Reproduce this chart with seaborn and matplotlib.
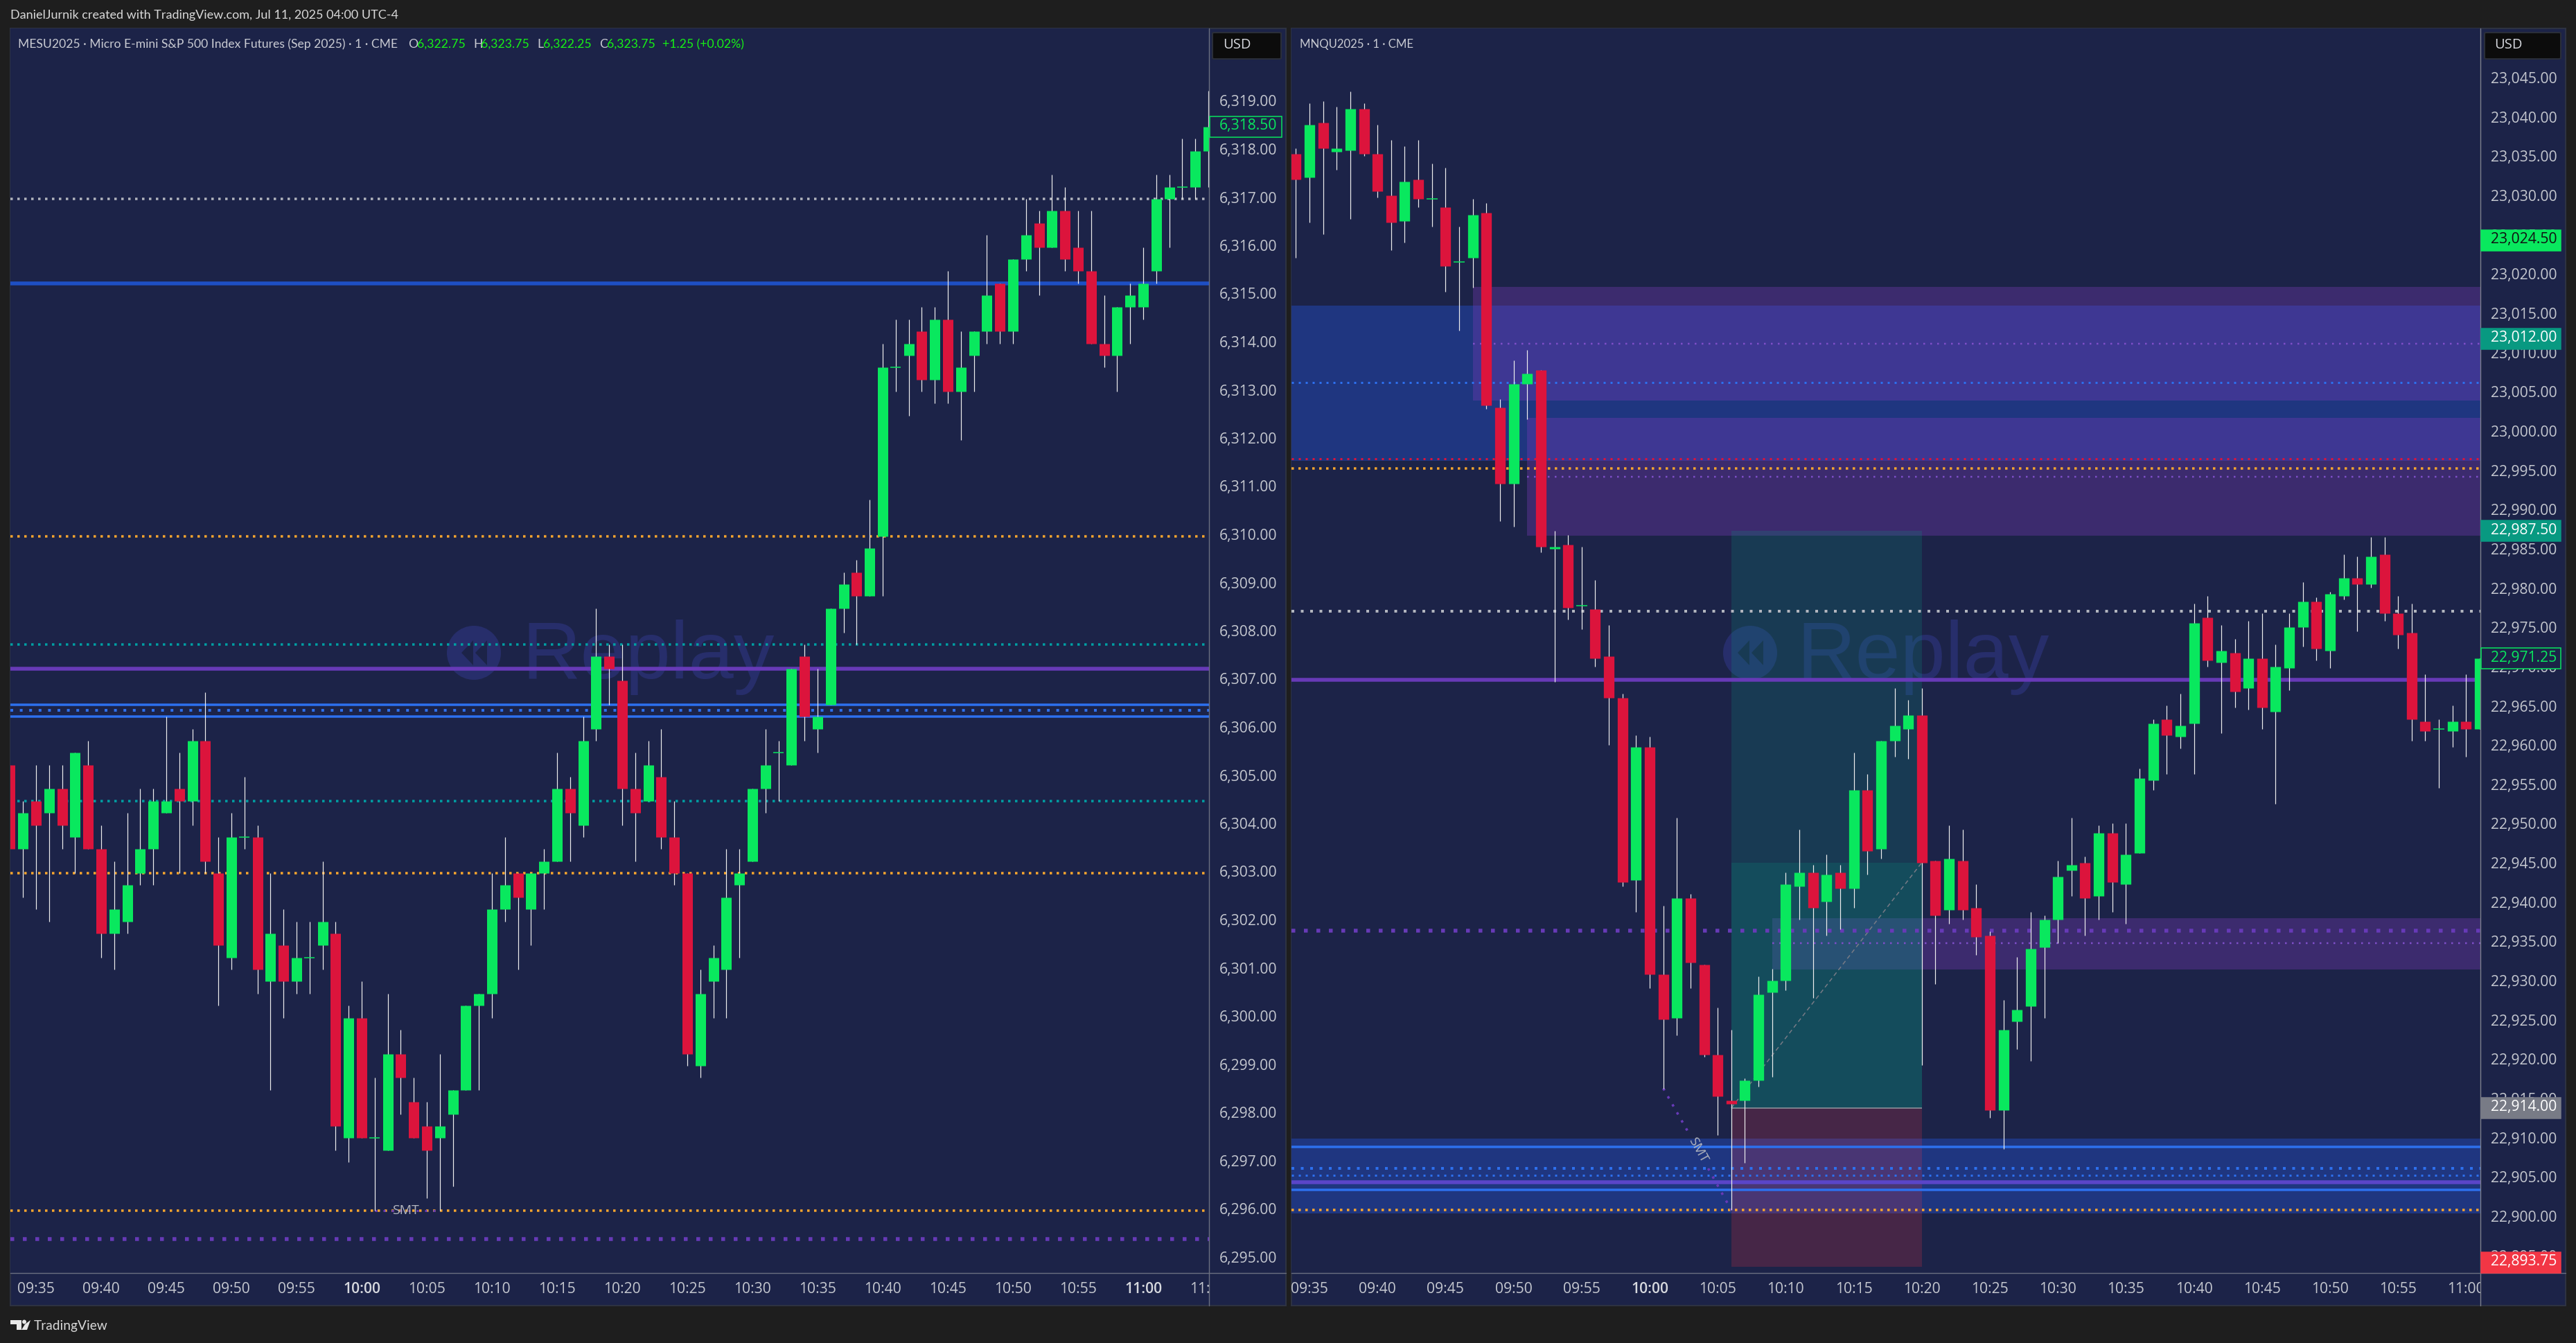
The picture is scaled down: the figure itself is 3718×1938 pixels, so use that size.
import numpy as np
import pandas as pd
import seaborn as sns
import matplotlib
matplotlib.use("Agg")
import matplotlib.pyplot as plt
from matplotlib.patches import Rectangle, Ellipse, Polygon, FancyBboxPatch
from matplotlib.transforms import Bbox, TransformedBbox, ScaledTranslation

# ---------- data ----------
mes_first_minute = -2   # minutes after 09:35
mes_open = [
 6305.25,6303.5,6304.5,6304.25,6304.75,6303.75,6305.25,6303.5,6301.75,6302,
 6303,6303.5,6304.25,6304.75,6304.5,6305.75,6303,6301.25,6303.75,6303.75,
 6300.75,6301.5,6300.75,6301.25,6301.5,6301.75,6297.5,6300,6297.5,6297.25,
 6299.25,6298.25,6297.75,6297.5,6298,6298.5,6300.25,6300.5,6302.25,6303,
 6302.25,6303,6303.25,6304.75,6304,6306,6307.5,6307,6304.75,6304.5,
 6305,6303.75,6303,6299,6300.75,6301,6302.75,6303.25,6304.75,6305.5,
 6305.25,6307.5,6306,6306.5,6308.5,6309.25,6308.75,6310,6313.5,6313.75,
 6314.25,6313.25,6314.5,6313,6313.75,6314.25,6315.25,6314.25,6315.75,6316.5,
 6316,6316.75,6316,6315.5,6314,6313.75,6314.75,6314.75,6315.5,6317,
 6317.25,6317.25,6318]
mes_high = [
 6305.25,6304.5,6305.25,6305.25,6305.25,6305.5,6305.75,6304,6303.25,6304.25,
 6304.75,6304.75,6306.25,6305.5,6306,6306.75,6303.75,6304.25,6305,6304,
 6303,6302.25,6302,6302,6303.25,6302,6300.25,6300.75,6298.75,6300.5,
 6299.75,6298.75,6298.25,6299.25,6298.5,6300.25,6300.5,6303,6303.75,6303,
 6303,6303.5,6305.5,6305,6306.25,6308.5,6307.75,6307.75,6305.5,6305.75,
 6306,6304.5,6303,6301,6301.5,6303.5,6303.5,6304.75,6306,6305.75,
 6307.25,6307.75,6307.25,6308.5,6309.25,6309.5,6310.75,6314,6314.5,6314.5,
 6314.75,6314.75,6315.5,6314.25,6314.25,6316.25,6315.25,6315.75,6317,6316.75,
 6317.5,6317.25,6316.75,6316.75,6315,6314.75,6315.25,6316,6317.5,6317.5,
 6318.25,6318.25,6319.25]
mes_low = [
 6303.5,6302.5,6302.25,6302,6303.5,6303,6303.5,6301.25,6301,6301.75,
 6302.75,6302.75,6304.25,6303,6304,6303,6300.25,6301,6303.5,6300.5,
 6298.5,6300,6300.5,6300.5,6301,6297.25,6297,6297.5,6296,6297.25,
 6298,6297.5,6296.25,6296,6296.5,6298.5,6298.5,6300,6302,6301,
 6301.5,6302.25,6303.25,6303.25,6303.75,6305.75,6306.5,6304,6303.25,6304.5,
 6303.5,6302.75,6299,6298.75,6300,6300,6301.25,6303.25,6304.25,6304.5,
 6305.25,6305.75,6305.5,6306.5,6308,6307.75,6308.75,6308.75,6313,6312.5,
 6313,6312.75,6312.75,6312,6313,6314,6314,6314,6315.5,6315,
 6316,6315.5,6315.25,6314,6313.5,6313,6314,6314.5,6315.25,6316,
 6317,6317,6317.25]
mes_close = [
 6303.5,6304.25,6304,6304.75,6304,6305.5,6303.5,6301.75,6302.25,6302.75,
 6303.5,6304.5,6304.5,6304.5,6305.75,6303.25,6301.5,6303.75,6303.75,6301,
 6301.75,6300.75,6301.25,6301.25,6302,6297.75,6300,6297.5,6297.5,6299.25,
 6298.75,6297.5,6297.25,6297.75,6298.5,6300.25,6300.5,6302.25,6302.75,6302.5,
 6303,6303.25,6304.75,6304.25,6305.75,6307.5,6307.25,6304.75,6304.25,6305.25,
 6303.75,6303,6299.25,6300.5,6301.25,6302.5,6303,6304.75,6305.25,6305.5,
 6307.25,6306.25,6306.25,6308.5,6309,6308.75,6309.75,6313.5,6313.5,6314,
 6313.25,6314.5,6313,6313.5,6314.25,6315,6314.25,6315.75,6316.25,6316,
 6316.75,6315.75,6315.5,6314,6313.75,6314.75,6315,6315.25,6317,6317.25,
 6317.25,6318,6318.5]

mnq_first_minute = -1
mnq_open = [
 23035.5,23032.5,23039.5,23035.75,23036,23041.25,23035.5,23030.25,23027,23032.25,
 23029.75,23028.75,23021.75,23022.25,23028,23003.25,22993.5,23006.25,23008,22985.25,
 22985.75,22978,22977.5,22971.5,22966.25,22943,22960,22931,22925.5,22940.75,
 22932.25,22920.75,22915,22915,22917.5,22928.75,22930.25,22942.25,22944,22940.25,
 22944,22942,22954.5,22947,22960.75,22962.25,22964,22945.5,22939.25,22945.5,
 22939.5,22936,22913.75,22925,22927,22934.5,22938,22944.25,22945.25,22941,
 22949,22942.5,22946.5,22955.75,22963.5,22961.25,22963,22976.5,22970.75,22972,
 22967.5,22971.25,22964.5,22970,22975.25,22978.5,22972.25,22979.25,22981.5,22980.75,
 22984.5,22977,22974.5,22963.25,22962.25,22962,22963.25,22962.25]
mnq_high = [
 23036.25,23042,23042.25,23041.5,23043.5,23042,23039.25,23037.25,23036.5,23037.25,
 23034.25,23033.75,23026.25,23029.75,23029.25,23004.25,23009.25,23010.5,23008,22987.5,
 22987,22985.5,22981.25,22975.5,22966.75,22961.5,22961.25,22939.75,22951,22941.25,
 22932.25,22926.75,22924,22917.75,22930.75,22931.75,22944,22949.5,22945,22946.25,
 22945,22959.25,22956.5,22960.75,22967.5,22966,22967.5,22945.5,22950,22949.5,
 22942.5,22936.5,22927.75,22933.25,22939,22938.5,22945.5,22951,22946,22950,
 22950.25,22950.25,22957.25,22963.5,22965.25,22966.75,22978.25,22979.25,22975.5,22973.75,
 22976,22977,22973,22977,22981,22979,22979.75,22984.5,22984.25,22986.75,
 22986.75,22979.25,22978.25,22969.25,22963.5,22965.25,22969.25,22971.25]
mnq_low = [
 23022.25,23026.75,23025.25,23033.5,23027.25,23035.25,23030,23023.25,23024.25,23028.75,
 23026.25,23018,23013,23018.5,23003,22988.75,22988,23001.75,22984.75,22968.25,
 22976.25,22975,22970.25,22960.25,22942.25,22939,22929.25,22916.5,22923.25,22929.25,
 22920.5,22910.5,22901,22907,22916.75,22918,22929,22938,22928,22936,
 22936.75,22939.5,22943.75,22945.75,22958.75,22958.5,22919.5,22929.75,22937.5,22938,
 22933.5,22912.75,22908.75,22921.5,22920,22925.5,22935,22941,22936,22938,
 22939,22937.5,22946.5,22954.5,22956.5,22959.75,22956.5,22970.25,22961.75,22965,
 22964.75,22962.25,22952.75,22967.25,22972.75,22971,22970,22978.75,22974.75,22980.25,
 22976,22972.5,22960.75,22960.75,22954.75,22960,22958.75,22962.25]
mnq_close = [
 23032.25,23039.25,23036.25,23036.25,23041.25,23035.5,23030.75,23026.75,23032,23029.75,
 23029.75,23021.25,23021.75,23027.75,23003.5,22993.5,23006.25,23007.5,22985.5,22985.5,
 22977.75,22978,22971.25,22966.25,22942.75,22960,22931,22925.25,22940.75,22932.5,
 22920.75,22915.5,22914.5,22917.5,22928.5,22930.25,22942.5,22944,22939.5,22943.75,
 22942,22954.5,22946.75,22960.75,22962.75,22964,22945.25,22938.5,22945.75,22939.25,
 22935.75,22913.75,22924,22926.5,22934.25,22938,22943.5,22945,22940.75,22949,
 22942.75,22946.25,22956,22963,22961.5,22962.75,22975.75,22971,22972.25,22967,
 22971.25,22965,22970.25,22975.25,22978.5,22972.5,22979.5,22981.5,22980.75,22984.25,
 22977,22974.25,22963.5,22962,22962.25,22963.25,22962.25,22971.25]

mes_price_ticks = list(range(6295, 6320))
mnq_price_ticks = list(range(22895, 23050, 5))
mes_time_minutes = list(range(0, 95, 5))
mes_time_labels = ["09:35","09:40","09:45","09:50","09:55","10:00","10:05","10:10","10:15","10:20",
                   "10:25","10:30","10:35","10:40","10:45","10:50","10:55","11:00","11:05"]
mnq_time_minutes = list(range(0, 90, 5))
mnq_time_labels = mes_time_labels[:18]

mes_white_dotted = [6317.0]
mes_orange_dotted = [6310.0, 6303.0, 6296.0]
mes_teal_dotted = [6307.75, 6304.5]
mes_blue_thick = 6315.25
mes_purple_solid = 6307.25
mes_blue_solid = [6306.5, 6306.25]
mes_blue_dotted = 6306.38
mes_purple_dotted = 6295.4
mes_last = 6318.5

mnq_blue_zone_top = (23016.2, 22996.45)
mnq_blue_zone_bottom = (22910.1, 22900.6)
mnq_purple_zones = [(12, 23018.6, 23004.1), (16, 23001.85, 22986.9), (34, 22938.18, 22931.6)]
mnq_purple_fine = [(12, 23011.36), (16, 22994.4), (34, 22934.95)]
mnq_blue_fine_dotted = [23006.36, 22905.4]
mnq_red_dotted = 22996.73
mnq_orange_dotted = [22995.44, 22901.0]
mnq_white_dotted = 22977.25
mnq_purple_solid = [22968.5, 22904.5]
mnq_purple_dotted = 22936.6
mnq_blue_solid = [22909.03, 22903.6]
mnq_blue_dotted = 22906.3
long_start, long_end = 31, 45
long_target, long_entry, long_stop, long_exit = 22987.5, 22914.0, 22893.75, 22945.25

# ---------- layout ----------
W, H = 3718, 1938
DPI = 100
PX = 72 / DPI
BG = "#1e1e1e"; PANE = "#1c2348"; EDGE = "#2d3242"
UP = "#09e85e"; DOWN = "#dc143c"; GREY = "#c4c7cf"
ORANGE = "#f9a62e"; TEAL = "#00a0a3"; BLUE = "#2d70ee"; BLUE2 = "#1e4fc4"; PURPLE = "#673ab7"
WM = "#272e6b"
FONT = "Open Sans"

sns.set_theme(style="dark", rc={"figure.facecolor": BG, "axes.facecolor": PANE, "axes.grid": False})
plt.rcParams["font.family"] = [FONT, "DejaVu Sans"]

fig = plt.figure(figsize=(W / DPI, H / DPI), dpi=DPI, facecolor=BG)

def fx(x): return x / W
def fy(y): return 1 - y / H

def make_axes(x0, x1, xt0, xscale, ylim):
    y0, y1 = 41, 1837
    ax = fig.add_axes([fx(x0), fy(y1), fx(x1 - x0), (y1 - y0) / H])
    ax.set_xlim((x0 - xt0) / xscale, (x1 - xt0) / xscale)
    ax.set_ylim(*ylim)
    ax.set_facecolor(PANE)
    for s in ax.spines.values():
        s.set_visible(False)
    return ax

def pane(x0, x1):
    fig.add_artist(Rectangle((fx(x0), fy(1884)), fx(x1 - x0), (1884 - 41) / H, transform=fig.transFigure,
                             fc=PANE, ec=EDGE, lw=2 * PX, zorder=-5))

pane(15, 1856)
pane(1864, 3703)

mes_x0, mes_dx = 52.0, 18.8
mnq_x0, mnq_dx = 1890.0, 19.64
mes_ylim = (6317 - (1837 - 287) / 69.5, 6317 + (287 - 41) / 69.5)
mnq_ylim = (23012 - (1837 - 488.5) / 11.33, 23012 + (488.5 - 41) / 11.33)
ax1 = make_axes(15, 1745, mes_x0, mes_dx, mes_ylim)
ax2 = make_axes(1864, 3580, mnq_x0, mnq_dx, mnq_ylim)

def py_mnq(p): return 488.5 + (23012 - p) * 11.33

def candles(ax, first, o, h, l, c, body_px):
    t = np.arange(first, first + len(o))
    wicks = pd.DataFrame({"t": np.r_[t, t], "price": np.r_[l, h]})
    sns.lineplot(data=wicks, x="t", y="price", units="t", estimator=None, sort=False, color="#eeeeee",
                 linewidth=1.2 * PX, ax=ax, legend=False, zorder=10, solid_capstyle="butt")
    o, c = np.array(o), np.array(c)
    real = o != c
    side = np.where(c >= o, "up", "down")
    bodies = pd.DataFrame({"t": np.r_[t[real], t[real]], "price": np.r_[o[real], c[real]],
                           "side": np.r_[side[real], side[real]]})
    sns.lineplot(data=bodies, x="t", y="price", units="t", hue="side", estimator=None, sort=False,
                 palette={"up": UP, "down": DOWN}, linewidth=body_px * PX, ax=ax, legend=False, zorder=11,
                 solid_capstyle="butt")
    ax.hlines(o[~real], t[~real] - 0.4, t[~real] + 0.4, color=UP, lw=1.5 * PX, zorder=11)
    ax.set_xlabel(""); ax.set_ylabel("")

def hline(ax, y, color, w_px, period=None, xmin=None, xmax=None, z=5):
    xl = ax.get_xlim()
    a = xl[0] if xmin is None else xmin
    b = xl[1] if xmax is None else xmax
    kw = dict(solid_capstyle="butt", dash_capstyle="butt")
    if period:
        ax.plot([a, b], [y, y], color=color, lw=w_px * PX, linestyle=(0, (1, period / w_px - 1)), zorder=z,
                scalex=False, scaley=False, **kw)
    else:
        ax.plot([a, b], [y, y], color=color, lw=w_px * PX, zorder=z, scalex=False, scaley=False, **kw)

def watermark(ax, cx, cy, tx):
    ax.add_patch(Ellipse((fx(cx), fy(cy)), 2 * 39 / W, 2 * 39 / H, transform=fig.transFigure, fc=WM, ec="none", zorder=1))
    for off in (-18, 2):
        pts = [(cx + off, cy), (cx + off + 17, cy - 18), (cx + off + 17, cy + 18)]
        ax.add_patch(Polygon([(fx(a), fy(b)) for a, b in pts], transform=fig.transFigure, fc=PANE, ec="none", zorder=1.1))
    ax.text(fx(tx), fy(979), "Replay", transform=fig.transFigure, family="Liberation Sans", fontsize=117 * PX,
            color=WM, ha="left", va="baseline", zorder=1.2, clip_on=False)

# ---- left panel
watermark(ax1, 684, 942, 753)
for y in mes_white_dotted: hline(ax1, y, "#b2b5be", 3.5, 10)
for y in mes_orange_dotted: hline(ax1, y, ORANGE, 3.5, 10)
for y in mes_teal_dotted: hline(ax1, y, TEAL, 3.5, 10)
hline(ax1, mes_blue_thick, BLUE2, 5.5)
hline(ax1, mes_purple_solid, PURPLE, 5.5)
for y in mes_blue_solid: hline(ax1, y, BLUE, 3.5)
hline(ax1, mes_blue_dotted, BLUE, 4, 13.6)
hline(ax1, mes_purple_dotted, PURPLE, 5.5, 18)
hline(ax1, 6296.0, PURPLE, 3, 12, 26, 31, z=6)
candles(ax1, mes_first_minute, mes_open, mes_high, mes_low, mes_close, 15)
ax1.set_xlim((15 - mes_x0) / mes_dx, (1745 - mes_x0) / mes_dx); ax1.set_ylim(*mes_ylim)
ax1.text(28.4, 6296.0, "SMT", color="#b2b5be", fontsize=14, ha="center", va="center", zorder=12)

# ---- right panel
xr = (3580 - mnq_x0) / mnq_dx
xl = (1864 - mnq_x0) / mnq_dx
watermark(ax2, 2526, 942, 2593)
def span(ax, a, b, top, bot, **kw):
    ax.add_patch(Rectangle((a, bot), b - a, top - bot, ec="none", **kw))
span(ax2, xl, xr, *mnq_blue_zone_top, fc="#1f3680", zorder=2)
span(ax2, xl, xr, *mnq_blue_zone_bottom, fc="#1f3680", zorder=2)
for start, top, bot in mnq_purple_zones:
    span(ax2, start, xr, top, bot, fc=(120/255, 58/255, 183/255, 0.35), zorder=3)
span(ax2, long_start, long_end, long_target, long_entry, fc=(8/255, 153/255, 129/255, 0.2), zorder=4)
span(ax2, long_start, long_end, long_exit, long_entry, fc=(8/255, 153/255, 129/255, 0.2), zorder=4)
span(ax2, long_start, long_end, long_entry, long_stop, fc=(242/255, 54/255, 69/255, 0.2), zorder=4)
hline(ax2, long_entry, "#9598a1", 1.5, None, long_start, long_end)
ax2.plot([long_start, long_end], [long_entry, long_exit], color="#787b86", lw=1.5 * PX,
         linestyle=(0, (4, 3)), zorder=5, scalex=False, scaley=False)
for start, y in mnq_purple_fine: hline(ax2, y, "#7f4fc9", 2.5, 10, start, xr)
for y in mnq_blue_fine_dotted: hline(ax2, y, BLUE, 3, 10)
hline(ax2, mnq_red_dotted, DOWN, 3, 10)
for y in mnq_orange_dotted: hline(ax2, y, ORANGE, 3.5, 10)
hline(ax2, mnq_white_dotted, "#b2b5be", 4, 13.5)
hline(ax2, mnq_purple_solid[0], PURPLE, 5.5)
hline(ax2, mnq_purple_solid[1], "#5a45c8", 5.5)
hline(ax2, mnq_purple_dotted, PURPLE, 5.5, 18)
for y in mnq_blue_solid: hline(ax2, y, BLUE, 3.5)
hline(ax2, mnq_blue_dotted, BLUE, 4, 13.5)
smt_t = [26, 27.84, 29.3, 31]
smt_p = [22916.5, 22910.9, 22906.3, 22901.0]
for i in (0, 2):
    ax2.plot(smt_t[i:i + 2], smt_p[i:i + 2], color=PURPLE, lw=3.5 * PX, linestyle=(0, (1, 2.8)), zorder=6,
             scalex=False, scaley=False, dash_capstyle="butt")
candles(ax2, mnq_first_minute, mnq_open, mnq_high, mnq_low, mnq_close, 15.3)
ax2.set_xlim(xl, xr); ax2.set_ylim(*mnq_ylim)
ax2.text(28.55, 22908.6, "SMT", color="#b2b5be", fontsize=14, rotation=-61, rotation_mode="anchor",
         ha="center", va="center", zorder=12)

# ---- axes ticks
def fmt(p): return f"{p:,.2f}"
for ax, yt, xt, xlabels, bold in ((ax1, mes_price_ticks, mes_time_minutes, mes_time_labels, ("10:00", "11:00")),
                                  (ax2, mnq_price_ticks, mnq_time_minutes, mnq_time_labels, ("10:00",))):
    ax.yaxis.tick_right()
    ax.set_yticks(yt, [fmt(v) for v in yt])
    ax.set_xticks(xt, xlabels)
    ax.tick_params(axis="y", length=0, pad=15 * PX, labelsize=15.2, labelcolor=GREY, right=False, left=False)
    ax.tick_params(axis="x", length=0, pad=13.5 * PX, labelsize=15.2, labelcolor=GREY, bottom=False)
    up = ScaledTranslation(0, 2.5 / DPI, fig.dpi_scale_trans)
    for lab in ax.get_yticklabels():
        lab.set_transform(lab.get_transform() + up)
    box = TransformedBbox(Bbox([[0, -1], [1, 0]]), ax.transAxes)
    for lab in ax.get_xticklabels():
        lab.set_clip_on(True)
        lab.set_clip_box(box)
        if lab.get_text() in bold:
            lab.set_fontweight("semibold")
            lab.set_color("#d6d8de")

# ---- separators
def fline(xs, ys, color="#6c7080", w=1.4):
    fig.add_artist(plt.Line2D([fx(a) for a in xs], [fy(b) for b in ys], color=color, lw=w * PX, zorder=3,
                              transform=fig.transFigure))
fline([1745, 1745], [41, 1884]); fline([15, 1856], [1837, 1837])
fline([3580, 3580], [41, 1884], "#7c808c"); fline([1864, 3703], [1837, 1837])

def ftext(x, y, s, **kw):
    kw.setdefault("color", GREY); kw.setdefault("fontsize", 15.2)
    kw.setdefault("va", "center"); kw.setdefault("ha", "left"); kw.setdefault("zorder", 8)
    return fig.text(fx(x), fy(y), s, **kw)

# ---- USD buttons
for x0, x1, tx in ((1750, 1849, 1765), (3586, 3696, 3600)):
    fig.add_artist(FancyBboxPatch((fx(x0), fy(85)), fx(x1 - x0), 38 / H, boxstyle="round,pad=0,rounding_size=0.001",
                                  transform=fig.transFigure, fc="#0c0c0c", ec="#2a2e39", lw=2 * PX, zorder=6,
                                  mutation_aspect=H / W))
    ftext(tx, 65, "USD", color="#d6d8de", fontsize=14.5)

# ---- price boxes
def price_box(x0, x1, yc, fc, ec, tc, tx, price):
    fig.add_artist(Rectangle((fx(x0), fy(yc + 15)), fx(x1 - x0), 30 / H, transform=fig.transFigure,
                             fc=fc, ec=ec, lw=1.5 * PX, zorder=6))
    ftext(tx, yc - 1, fmt(price), color=tc)
price_box(1746, 1850, 183, PANE, UP, UP, 1760, mes_last)
mnq_boxes = [(23024.5, UP, UP, "#111111"), (23012.0, "#089981", "#089981", "#ffffff"),
             (22987.5, "#089981", "#089981", "#ffffff"), (22971.25, PANE, UP, UP),
             (22914.0, "#787b86", "#787b86", "#ffffff"), (22893.75, "#f23645", "#f23645", "#ffffff")]
for p, fc, ec, tc in mnq_boxes:
    yc = py_mnq(p)
    if p == 22893.75:
        yc = 1821.5
    price_box(3581, 3696, yc, fc, ec, tc, 3595, p)

# ---- header / legend
ftext(15, 22.5, "DanielJurnik created with TradingView.com, Jul 11, 2025 04:00 UTC-4", color="#d8d8d8", fontsize=13.0, family="Lato")
LEG = "#c8cad2"; BRIGHT = "#16f016"
ftext(26, 64, "MESU2025 · Micro E-mini S&P 500 Index Futures (Sep 2025) · 1 · CME", color=LEG, fontsize=12.65, family="Lato")
for x, s, c in ((589, "O", LEG), (602, "6,322.75", BRIGHT), (683, "H", LEG), (694, "6,323.75", BRIGHT),
                (775, "L", LEG), (784, "6,322.25", BRIGHT), (865, "C", LEG), (876, "6,323.75", BRIGHT),
                (956, "+1.25 (+0.02%)", BRIGHT)):
    ftext(x, 64, s, color=c, fontsize=12.7, family="Lato")
ftext(1876, 64, "MNQU2025 · 1 · CME", color=LEG, fontsize=12.1, family="Lato")

# ---- TradingView logo
LOGO = "#e8e8e8"
for pts in ([(15, 1905), (31, 1905), (31, 1919), (24, 1919), (24, 1911), (15, 1911)],
            [(36, 1911), (44, 1905), (39, 1919), (31, 1919)]):
    fig.add_artist(Polygon([(fx(a), fy(b)) for a, b in pts], transform=fig.transFigure, fc=LOGO, ec="none", zorder=8))
fig.add_artist(Ellipse((fx(35), fy(1907.5)), 6 / W, 6 / H, transform=fig.transFigure, fc=LOGO, ec="none", zorder=8))
ftext(49, 1913, "TradingView", color="#d8d8d8", fontsize=13.8, family="Lato")

fig.savefig("out.png", dpi=DPI, facecolor=BG)
